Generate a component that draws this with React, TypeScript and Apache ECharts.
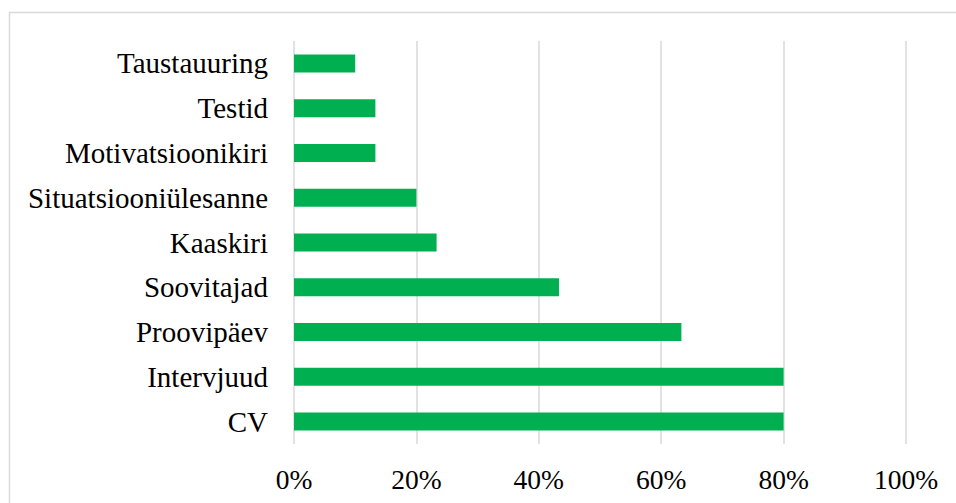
import React, { useEffect, useRef } from "react";
import * as echarts from "echarts";

const categories = [
  "CV",
  "Intervjuud",
  "Proovipäev",
  "Soovitajad",
  "Kaaskiri",
  "Situatsiooniülesanne",
  "Motivatsioonikiri",
  "Testid",
  "Taustauuring",
];
const values = [80, 80, 63.3, 43.3, 23.3, 20, 13.3, 13.3, 10];

export default function App() {
  const ref = useRef<HTMLDivElement>(null);
  useEffect(() => {
    if (!ref.current) return;
    const chart = echarts.init(ref.current, null, { renderer: "svg" });
    chart.setOption({
      animation: false,
      backgroundColor: "#ffffff",
      graphic: [
        {
          type: "rect",
          shape: { x: 9.5, y: 12.5, width: 1000, height: 600 },
          style: { fill: "none", stroke: "#d9d9d9", lineWidth: 1.5 },
          silent: true,
        },
      ],
      grid: { left: 294, right: 50, top: 41, bottom: 59, containLabel: false },
      xAxis: {
        type: "value",
        min: 0,
        max: 100,
        interval: 20,
        axisLine: { show: false },
        axisTick: { show: false },
        splitLine: { show: true, lineStyle: { color: "#d9d9d9", width: 1.5 } },
        axisLabel: {
          formatter: "{value}%",
          color: "#000",
          fontFamily: "'Liberation Serif', 'Times New Roman', serif",
          fontSize: 27.5,
          margin: 21,
        },
      },
      yAxis: {
        type: "category",
        data: categories,
        axisLine: { show: false },
        axisTick: { show: false },
        splitLine: { show: false },
        axisLabel: {
          color: "#000",
          fontFamily: "'Liberation Serif', 'Times New Roman', serif",
          fontSize: 29,
          margin: 26,
        },
      },
      series: [
        {
          type: "bar",
          data: values,
          barWidth: 18,
          itemStyle: { color: "#00b050" },
        },
      ],
    });
    return () => chart.dispose();
  }, []);
  return (
    <div
      ref={ref}
      style={{ position: "fixed", left: 0, top: 0, width: 956, height: 503 }}
    />
  );
}
